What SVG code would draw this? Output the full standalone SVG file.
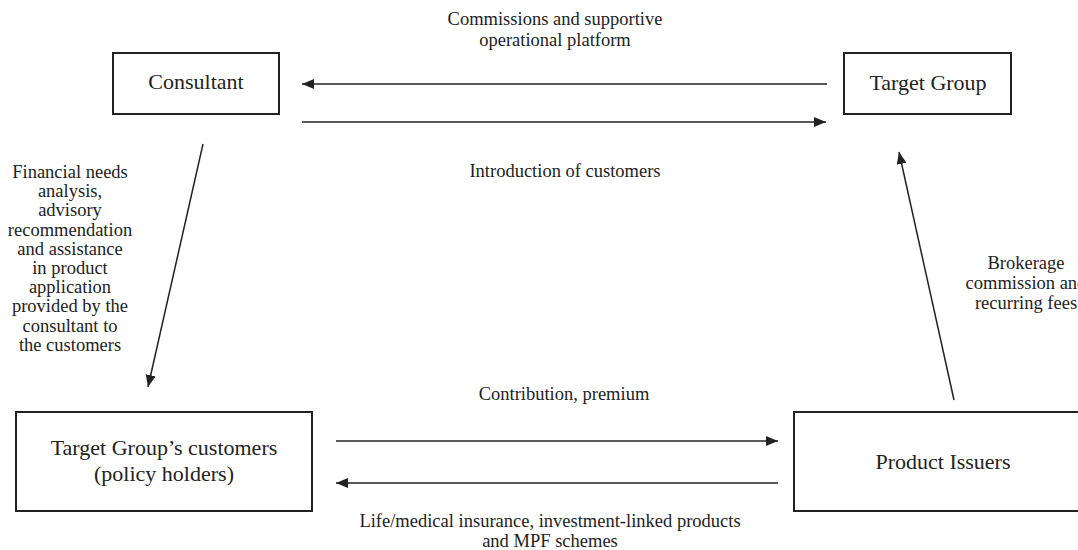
<svg xmlns="http://www.w3.org/2000/svg" width="1078" height="550" viewBox="0 0 1078 550">
<defs>
<style>
.box{fill:#fff;stroke:#222;stroke-width:2}
.lbl{font-family:"Liberation Serif","Times New Roman",serif;font-size:22px;fill:#222;text-anchor:middle}
.txt{font-family:"Liberation Serif","Times New Roman",serif;font-size:18.5px;fill:#222;text-anchor:middle}
.conn{stroke:#222;stroke-width:1.5;fill:none;marker-end:url(#ah)}
</style>
<marker id="ah" markerUnits="userSpaceOnUse" markerWidth="13" markerHeight="11" refX="12" refY="5" orient="auto">
<path d="M0,0 L12,5 L0,10 z" fill="#222"/>
</marker>
</defs>
<rect width="1078" height="550" fill="#fff"/>
<g id="consultant">
<rect class="box" x="113" y="53" width="166" height="61"/>
<text class="lbl" x="196" y="89">Consultant</text>
</g>
<g id="target-group">
<rect class="box" x="844" y="53" width="167" height="61"/>
<text class="lbl" x="928" y="90">Target Group</text>
</g>
<g id="customers">
<rect class="box" x="16" y="412" width="296" height="99"/>
<text class="lbl" x="164" y="455">Target Group’s customers</text>
<text class="lbl" x="164" y="481">(policy holders)</text>
</g>
<g id="product-issuers">
<rect class="box" x="794" y="412" width="297" height="99"/>
<text class="lbl" x="943" y="469">Product Issuers</text>
</g>
<g id="connectors">
<line class="conn" x1="827" y1="84" x2="302" y2="84"/>
<line class="conn" x1="302" y1="122" x2="826" y2="122"/>
<line class="conn" x1="203" y1="144" x2="148" y2="387"/>
<line class="conn" x1="954" y1="400" x2="899" y2="152"/>
<line class="conn" x1="336" y1="441" x2="778" y2="441"/>
<line class="conn" x1="778" y1="483" x2="336" y2="483"/>
</g>
<g id="labels">
<text class="txt" x="555" y="25">Commissions and supportive</text>
<text class="txt" x="555" y="46">operational platform</text>
<text class="txt" x="565" y="177">Introduction of customers</text>
<text class="txt" x="70" y="178">Financial needs</text>
<text class="txt" x="70" y="197.2">analysis,</text>
<text class="txt" x="70" y="216.4">advisory</text>
<text class="txt" x="70" y="235.6">recommendation</text>
<text class="txt" x="70" y="254.8">and assistance</text>
<text class="txt" x="70" y="274">in product</text>
<text class="txt" x="70" y="293.2">application</text>
<text class="txt" x="70" y="312.4">provided by the</text>
<text class="txt" x="70" y="331.6">consultant to</text>
<text class="txt" x="70" y="350.8">the customers</text>
<text class="txt" x="1026" y="269">Brokerage</text>
<text class="txt" x="1026" y="289">commission and</text>
<text class="txt" x="1026" y="309">recurring fees</text>
<text class="txt" x="564" y="400">Contribution, premium</text>
<text class="txt" x="550" y="527">Life/medical insurance, investment-linked products</text>
<text class="txt" x="550" y="547">and MPF schemes</text>
</g>
</svg>
